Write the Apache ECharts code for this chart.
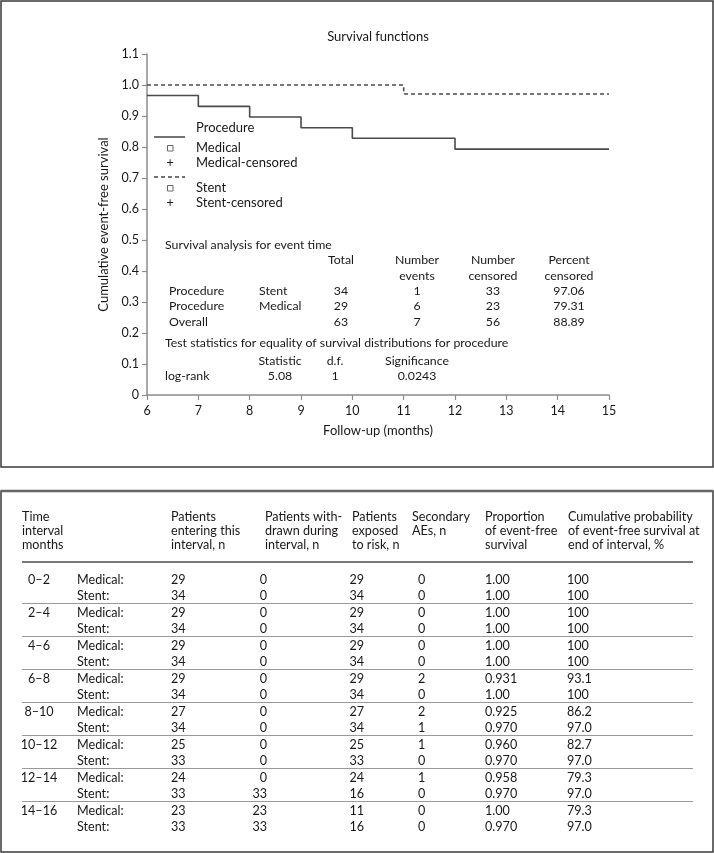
<!DOCTYPE html>
<html><head><meta charset="utf-8">
<script src="https://cdn.jsdelivr.net/npm/echarts@6/dist/echarts.min.js"></script>
<style>html,body{margin:0;padding:0;background:#fff}#c{width:714px;height:853px}</style>
</head><body><div id="c"></div>
<script>
// ---- Survival curves ----
const medicalTimes = [6, 7, 8, 9, 10, 12, 15];
const medicalSurv  = [0.966, 0.931, 0.897, 0.862, 0.828, 0.793, 0.793];
const stentTimes   = [6, 11, 15];
const stentSurv    = [1.0, 0.971, 0.971];
const xMin = 6, xMax = 15, yMin = 0, yMax = 1.1;

// ---- In-chart summary text ----
const summaryTitle = 'Survival analysis for event time';
const summaryHeader1 = ['Total', 'Number', 'Number', 'Percent'];
const summaryHeader2 = ['', 'events', 'censored', 'censored'];
const summaryRows = [
  ['Procedure', 'Stent', '34', '1', '33', '97.06'],
  ['Procedure', 'Medical', '29', '6', '23', '79.31'],
  ['Overall', '', '63', '7', '56', '88.89']
];
const testTitle = 'Test statistics for equality of survival distributions for procedure';
const testHeader = ['Statistic', 'd.f.', 'Significance'];
const testRow = ['log-rank', '5.08', '1', '0.0243'];

// ---- Life table ----
const intervals    = ['0–2', '2–4', '4–6', '6–8', '8–10', '10–12', '12–14', '14–16'];
const medEntering  = ['29', '29', '29', '29', '27', '25', '24', '23'];
const medWithdrawn = ['0', '0', '0', '0', '0', '0', '0', '23'];
const medExposed   = ['29', '29', '29', '29', '27', '25', '24', '11'];
const medAEs       = ['0', '0', '0', '2', '2', '1', '1', '0'];
const medProp      = ['1.00', '1.00', '1.00', '0.931', '0.925', '0.960', '0.958', '1.00'];
const medCum       = ['100', '100', '100', '93.1', '86.2', '82.7', '79.3', '79.3'];
const stEntering   = ['34', '34', '34', '34', '34', '33', '33', '33'];
const stWithdrawn  = ['0', '0', '0', '0', '0', '0', '33', '33'];
const stExposed    = ['34', '34', '34', '34', '34', '33', '16', '16'];
const stAEs        = ['0', '0', '0', '0', '1', '0', '0', '0'];
const stProp       = ['1.00', '1.00', '1.00', '1.00', '0.970', '0.970', '0.970', '0.970'];
const stCum        = ['100', '100', '100', '100', '97.0', '97.0', '97.0', '97.0'];
const tableHeaders = [
  ['Time', 'interval', 'months'],
  ['Patients', 'entering this', 'interval, n'],
  ['Patients with-', 'drawn during', 'interval, n'],
  ['Patients', 'exposed', 'to risk, n'],
  ['Secondary', 'AEs, n'],
  ['Proportion', 'of event-free', 'survival'],
  ['Cumulative probability', 'of event-free survival at', 'end of interval, %']
];

// ---------------------------------------------------------------
const FONT = 'Lato, "Open Sans", sans-serif';
const TXT = '#1a1718';
const chart = echarts.init(document.getElementById('c'), null, {renderer: 'canvas'});

function T(text, x, y, align, size, color) {
  return {type: 'text', x: x, y: y, silent: true,
    style: {text: text, fill: color || TXT, fontSize: size || 12, fontFamily: FONT,
            align: align || 'left', verticalAlign: 'middle'}};
}
function L(x1, y1, x2, y2, color, w, dash) {
  return {type: 'line', silent: true, shape: {x1: x1, y1: y1, x2: x2, y2: y2},
    style: {stroke: color, lineWidth: w, lineDash: dash || null}};
}

const g = [];
// boxes
g.push({type: 'rect', silent: true, shape: {x: 1, y: 1, width: 712, height: 466}, style: {fill: 'none', stroke: '#3a3a3a', lineWidth: 1.5}});
g.push({type: 'rect', silent: true, shape: {x: 1, y: 491, width: 712, height: 361}, style: {fill: 'none', stroke: '#3a3a3a', lineWidth: 1.5}});
g.push(L(1, 491, 713, 491, '#666', 2.5));

// title
g.push(T('Survival functions', 378, 37, 'center', 13));

// legend
g.push(T('Procedure', 196, 128, 'left', 13));
g.push(L(154, 137, 185, 137, '#444', 1.5));
g.push({type: 'rect', silent: true, shape: {x: 167.5, y: 145.5, width: 5.5, height: 5.5}, style: {fill: 'none', stroke: '#666', lineWidth: 1}});
g.push(T('Medical', 196, 148, 'left', 13));
g.push(T('+', 170, 163, 'center', 12.5));
g.push(T('Medical-censored', 196, 163, 'left', 13));
g.push(L(154, 177, 185, 177, '#444', 1.5, [4, 3]));
g.push({type: 'rect', silent: true, shape: {x: 167.5, y: 185.5, width: 5.5, height: 5.5}, style: {fill: 'none', stroke: '#666', lineWidth: 1}});
g.push(T('Stent', 196, 188, 'left', 13));
g.push(T('+', 170, 203, 'center', 12.5));
g.push(T('Stent-censored', 196, 203, 'left', 13));

// summary text block
const sumCols = [341, 417, 493, 569];
g.push(T(summaryTitle, 165, 245, 'left', 12.3));
summaryHeader1.forEach((h, i) => g.push(T(h, sumCols[i], 260, 'center', 12.3)));
summaryHeader2.forEach((h, i) => { if (h) g.push(T(h, sumCols[i], 276, 'center', 12.3)); });
const sumRowY = [291, 306, 322];
summaryRows.forEach((r, j) => {
  g.push(T(r[0], 169, sumRowY[j], 'left', 12.3));
  if (r[1]) g.push(T(r[1], 259, sumRowY[j], 'left', 12.3));
  for (let k = 0; k < 4; k++) g.push(T(r[k + 2], sumCols[k], sumRowY[j], 'center', 12.3));
});
g.push(T(testTitle, 165, 343, 'left', 12.3));
const testCols = [280, 335, 417];
testHeader.forEach((h, i) => g.push(T(h, testCols[i], 361, 'center', 12.3)));
g.push(T(testRow[0], 165, 376, 'left', 12.3));
for (let k = 0; k < 3; k++) g.push(T(testRow[k + 1], testCols[k], 376, 'center', 12.3));

// life table
const TF = 12.6;
const hdrX = [22, 171, 265, 352, 412, 485, 568];
tableHeaders.forEach((lines, i) => lines.forEach((s, j) => g.push(T(s, hdrX[i], 517 + j * 14, 'left', TF))));
g.push(L(22, 562, 693, 562, '#777', 2));
const colSpec = [
  [171, 'left'], [267, 'right'], [364, 'right'], [418, 'left'], [485, 'left'], [567, 'left']
];
intervals.forEach((iv, i) => {
  const ym = 580 + 33 * i, ys = 596 + 33 * i;
  g.push(T(iv, 39, ym, 'center', TF));
  g.push(T('Medical:', 77, ym, 'left', TF));
  g.push(T('Stent:', 77, ys, 'left', TF));
  const mv = [medEntering[i], medWithdrawn[i], medExposed[i], medAEs[i], medProp[i], medCum[i]];
  const sv = [stEntering[i], stWithdrawn[i], stExposed[i], stAEs[i], stProp[i], stCum[i]];
  mv.forEach((v, k) => g.push(T(v, colSpec[k][0], ym, colSpec[k][1], TF)));
  sv.forEach((v, k) => g.push(T(v, colSpec[k][0], ys, colSpec[k][1], TF)));
  if (i < intervals.length - 1) g.push(L(22, 603.5 + 33 * i, 693, 603.5 + 33 * i, '#999', 1));
});

const option = {
  backgroundColor: '#fff',
  animation: false,
  textStyle: {fontFamily: FONT},
  grid: {left: 147, right: 105, top: 54, bottom: 458, containLabel: false},
  xAxis: {
    type: 'value', min: xMin, max: xMax, interval: 1,
    name: 'Follow-up (months)', nameLocation: 'middle', nameGap: 29,
    nameTextStyle: {color: TXT, fontSize: 13, fontFamily: FONT},
    axisLine: {show: true, onZero: false, lineStyle: {color: '#8c8c8c', width: 1.5}},
    axisTick: {show: true, inside: false, length: 5, lineStyle: {color: '#8c8c8c', width: 1.2}},
    axisLabel: {color: TXT, fontSize: 12.5, fontFamily: FONT, margin: 9},
    splitLine: {show: false}
  },
  yAxis: {
    type: 'value', min: yMin, max: yMax, interval: 0.1,
    name: 'Cumulative event-free survival', nameLocation: 'middle', nameGap: 35,
    nameTextStyle: {color: TXT, fontSize: 13, fontFamily: FONT},
    axisLine: {show: true, lineStyle: {color: '#8c8c8c', width: 1.5}},
    axisTick: {show: true, inside: false, length: 5, lineStyle: {color: '#8c8c8c', width: 1.2}},
    axisLabel: {color: TXT, fontSize: 12.5, fontFamily: FONT, margin: 8,
      formatter: v => (Math.abs(v) < 1e-9 ? '0' : v.toFixed(1))},
    splitLine: {show: false}
  },
  series: [
    {name: 'Medical', type: 'line', step: 'end', showSymbol: false, symbol: 'none',
     data: medicalTimes.map((t, i) => [t, medicalSurv[i]]),
     lineStyle: {color: '#4a4a4a', width: 1.6, type: 'solid'}, z: 3},
    {name: 'Stent', type: 'line', step: 'end', showSymbol: false, symbol: 'none',
     data: stentTimes.map((t, i) => [t, stentSurv[i]]),
     lineStyle: {color: '#4a4a4a', width: 1.6, type: [4, 3]}, z: 3}
  ],
  graphic: {elements: g}
};
chart.setOption(option);
</script></body></html>
